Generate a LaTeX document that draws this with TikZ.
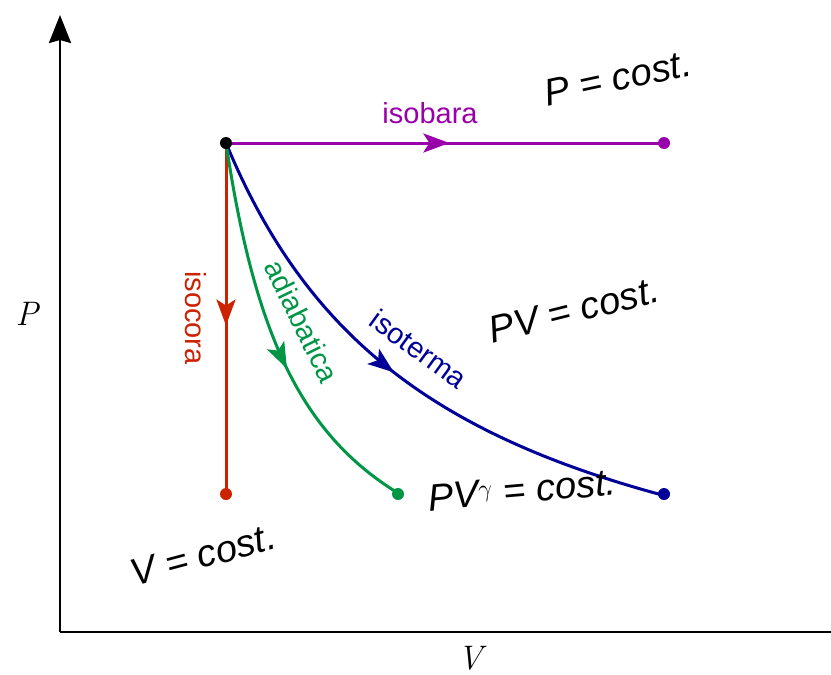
\documentclass[tikz,border=0pt]{standalone}
\usepackage{fontspec}
\setsansfont{Liberation Sans}
\usetikzlibrary{arrows.meta,decorations.markings}
\definecolor{cpurple}{RGB}{153,0,170}
\definecolor{cred}{RGB}{204,34,0}
\definecolor{cgreen}{RGB}{0,150,70}
\definecolor{cblue}{RGB}{0,0,153}
\begin{document}
\begin{tikzpicture}[x=1pt,y=-1pt,
 every node/.style={inner sep=0pt},
 dot/.style={circle,minimum size=12pt,inner sep=0pt},
 curve/.style={line width=3pt},
 axis/.style={line width=2.5pt},
 lbl/.style={font=\sffamily\fontsize{29}{31}\selectfont},
 axlbl/.style={font=\rmfamily\itshape\fontsize{34}{36}\selectfont},
 hand/.style={font=\sffamily\itshape\fontsize{38}{42}\selectfont, text=black},
 midarrow/.style={postaction={decorate,decoration={markings,mark=at position #1 with {\arrow{Stealth[length=26pt,width=19pt,inset=6pt]}}}}}
]
\useasboundingbox (0,0) rectangle (831,675);
\coordinate (O) at (60,632);
\coordinate (Ytop) at (60,15);
\coordinate (Xend) at (831,632);
\coordinate (A) at (226,143);
\coordinate (Bp) at (664,143);
\coordinate (Br) at (226,494);
\coordinate (Bg) at (398,494);
\coordinate (Bb) at (664,494);
% axes
\draw[axis,-{Stealth[length=28pt,width=22pt,inset=3pt]}] (O) -- (Ytop);
\draw[axis] (O) -- (Xend);
\node[axlbl] (Plbl) at (27,314) {P};
\node[axlbl] (Vlbl) at (470,658) {V};
% curves
\draw[curve,cpurple,midarrow=0.51] (A) -- (Bp);
\draw[curve,cred,midarrow=0.52] (A) -- (Br);
\draw[curve,cblue,midarrow=0.49] (A) -- plot[domain=227:663,samples=120] (\x,{672-1160.1/((\x-6.7)/100)}) -- (Bb);
\draw[curve,cgreen,midarrow=0.58] (A) -- plot[domain=227:397,samples=100] (\x,{645-374.6/((\x-151.4)/100)}) -- (Bg);
% dots
\node[dot,fill=black] (dA) at (A) {};
\node[dot,fill=cpurple] (dP) at (Bp) {};
\node[dot,fill=cred] (dR) at (Br) {};
\node[dot,fill=cgreen] (dG) at (Bg) {};
\node[dot,fill=cblue] (dB) at (Bb) {};
% labels
\node[lbl,text=cpurple] (isobara) at (430,113) {isobara};
\node[lbl,text=cred,rotate=-90] (isocora) at (196,318) {isocora};
\node[lbl,text=cgreen,rotate=-64] (adiabatica) at (302,321) {adiabatica};
\node[lbl,text=cblue,rotate=-36] (isoterma) at (419,349) {isoterma};
% handwritten
\node[hand,rotate=12] (h1) at (618,78) {P = cost.};
\node[hand,rotate=14] (h2) at (574,310) {PV = cost.};
\node[hand,rotate=5] (h3) at (522,490) {PV$^{\gamma}$ = cost.};
\node[hand,rotate=15] (h4) at (203,555) {V = cost.};
\end{tikzpicture}
\end{document}
